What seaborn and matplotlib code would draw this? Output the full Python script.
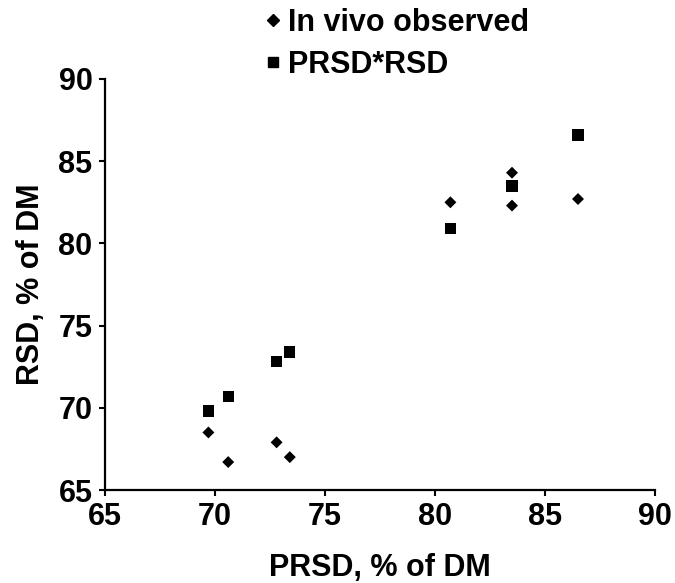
import pandas as pd
import numpy as np
import matplotlib
matplotlib.use('Agg')
import matplotlib.pyplot as plt
from matplotlib.lines import Line2D
import seaborn as sns

# ------------------------------------------------------------
# Data (% of DM)
# ------------------------------------------------------------
prsd = [69.7, 70.6, 72.8, 73.4, 80.7, 83.5, 83.5, 86.5]
in_vivo = [68.5, 66.7, 67.9, 67.0, 82.5, 84.3, 82.3, 82.7]
prsd_rsd = [69.8, 70.7, 72.8, 73.4, 80.9, 83.5, 83.5, 86.6]
series_names = ['In vivo observed', 'PRSD*RSD']
ticks = [65, 70, 75, 80, 85, 90]

df = pd.DataFrame({
    'PRSD': prsd * 2,
    'RSD': in_vivo + prsd_rsd,
    'series': [series_names[0]] * len(prsd) + [series_names[1]] * len(prsd),
})

# ------------------------------------------------------------
# Style
# ------------------------------------------------------------
sns.set_style('ticks')
plt.rcParams['font.family'] = ['Liberation Sans', 'DejaVu Sans']
plt.rcParams['font.weight'] = 'bold'
plt.rcParams['text.color'] = 'black'
plt.rcParams['axes.labelcolor'] = 'black'

fig = plt.figure(figsize=(6.75, 5.83), dpi=100)
ax = fig.add_axes([105 / 675, 1 - 490 / 583, 550 / 675, 411 / 583])

sns.scatterplot(data=df, x='PRSD', y='RSD', hue='series', style='series',
                size='series',
                palette={series_names[0]: 'black', series_names[1]: 'black'},
                markers={series_names[0]: 'D', series_names[1]: 's'},
                sizes={series_names[0]: 37, series_names[1]: 67},
                linewidth=0, legend=False, ax=ax)

ax.set_xlim(65, 90)
ax.set_ylim(65, 90)
ax.set_xticks(ticks)
ax.set_yticks(ticks)
sns.despine(ax=ax)
for side in ['left', 'bottom']:
    ax.spines[side].set_linewidth(1.6)
    ax.spines[side].set_color('black')
ax.tick_params(axis='both', length=4.5, width=1.5, color='black',
               labelsize=22, labelcolor='black')
ax.tick_params(axis='x', pad=4)
ax.tick_params(axis='y', pad=4.5)
for lab in ax.get_xticklabels() + ax.get_yticklabels():
    lab.set_fontweight('bold')

ax.set_xlabel('PRSD, % of DM', fontsize=22, fontweight='bold', labelpad=15)
ax.set_ylabel('RSD, % of DM', fontsize=22, fontweight='bold', labelpad=9)

# legend above the plot
handles = [
    Line2D([], [], marker='D', color='black', linestyle='none', markersize=5.8),
    Line2D([], [], marker='s', color='black', linestyle='none', markersize=7.0),
]
fig.legend(handles, series_names, loc='upper left',
           bbox_to_anchor=(267 / 675, 1 - 8 / 583), frameon=False,
           prop={'size': 22, 'weight': 'bold'}, handlelength=0.4,
           handletextpad=0.3, borderpad=0, borderaxespad=0,
           labelspacing=0.38, labelcolor='black')

fig.savefig('out.png', dpi=100)
plt.close(fig)
